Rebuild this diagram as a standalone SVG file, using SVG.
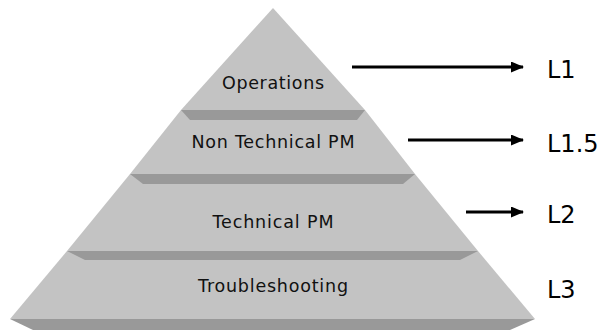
<svg xmlns="http://www.w3.org/2000/svg" width="600" height="333" viewBox="0 0 600 333">
  <defs>
    <style>
      .face { fill: #c3c3c3; }
      .bevel { fill: #999999; }
      .tier-label { font-family: "DejaVu Sans", Verdana, sans-serif; font-size: 17.5px; fill: #111111; text-anchor: middle; }
      .level { font-family: "DejaVu Sans", Verdana, sans-serif; font-size: 24px; fill: #000000; }
      .arrow { stroke: #000000; stroke-width: 3; fill: none; }
    </style>
    <marker id="head" markerWidth="13" markerHeight="11" refX="12" refY="5.5" orient="auto" markerUnits="userSpaceOnUse">
      <path d="M0,0 L13,5.5 L0,11 Z" fill="#000000"/>
    </marker>
  </defs>
  <rect width="600" height="333" fill="#ffffff"/>

  <!-- pyramid tiers, bottom first so each bevel sits over the tier below -->
  <g id="tier-troubleshooting">
    <polygon class="face" points="67,251 478,251 535,319 10,319"/>
    <polygon class="bevel" points="10,319 535,319 510,330 33,330"/>
    <text class="tier-label" x="273" y="292" textLength="150" lengthAdjust="spacing">Troubleshooting</text>
  </g>
  <g id="tier-technical-pm">
    <polygon class="face" points="130,174 415,174 478,251 67,251"/>
    <polygon class="bevel" points="67,251 478,251 460,260 85,260"/>
    <text class="tier-label" x="273" y="228" textLength="121" lengthAdjust="spacing">Technical PM</text>
  </g>
  <g id="tier-non-technical-pm">
    <polygon class="face" points="181,110 365,110 415,174 130,174"/>
    <polygon class="bevel" points="130,174 415,174 403,184 143,184"/>
    <text class="tier-label" x="273" y="148" textLength="163" lengthAdjust="spacing">Non Technical PM</text>
  </g>
  <g id="tier-operations">
    <polygon class="face" points="273,8 365,110 181,110"/>
    <polygon class="bevel" points="181,110 365,110 357,120 190,120"/>
    <text class="tier-label" x="273" y="89" textLength="102" lengthAdjust="spacing">Operations</text>
  </g>

  <!-- level labels -->
  <g id="level-l1"><text class="level" x="547" y="78">L1</text></g>
  <g id="level-l15"><text class="level" x="547" y="152">L1.5</text></g>
  <g id="level-l2"><text class="level" x="547" y="223">L2</text></g>
  <g id="level-l3"><text class="level" x="547" y="298">L3</text></g>

  <!-- connectors -->
  <g id="connectors">
    <line class="arrow" x1="352" y1="67" x2="523" y2="67" marker-end="url(#head)"/>
    <line class="arrow" x1="408" y1="140" x2="523" y2="140" marker-end="url(#head)"/>
    <line class="arrow" x1="466" y1="212" x2="523" y2="212" marker-end="url(#head)"/>
  </g>
</svg>
